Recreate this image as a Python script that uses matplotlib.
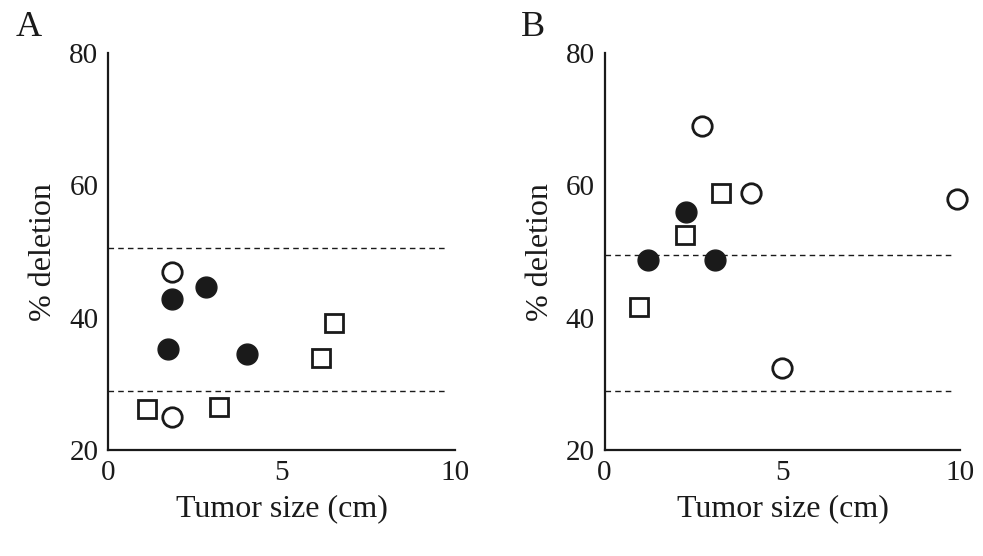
import matplotlib.pyplot as plt

plt.rcParams['font.family'] = ['Liberation Serif', 'DejaVu Serif']

# panel A
a_filled_x = [1.84, 2.82, 1.73, 4.0]
a_filled_y = [42.9, 44.6, 35.3, 34.5]
a_open_x = [1.84, 1.84]
a_open_y = [46.9, 25.0]
a_square_x = [6.5, 6.13, 1.13, 3.2]
a_square_y = [39.2, 34.0, 26.3, 26.6]
a_dashed = [50.5, 29.0]

# panel B
b_filled_x = [2.28, 1.21, 3.1]
b_filled_y = [56.0, 48.7, 48.7]
b_open_x = [2.73, 4.11, 9.9, 5.0]
b_open_y = [69.0, 58.8, 58.0, 32.4]
b_square_x = [3.27, 2.25, 0.96]
b_square_y = [58.8, 52.5, 41.7]
b_dashed = [49.5, 29.0]

x_ticks = [0, 5, 10]
y_ticks = [20, 40, 60, 80]
ink = '#1a1a1a'

fig = plt.figure(figsize=(9.83, 5.56), dpi=100)
ax_a = fig.add_axes([0.110, 0.190, 0.353, 0.715])
ax_b = fig.add_axes([0.615, 0.190, 0.362, 0.715])


def draw_panel(ax, fx, fy, ox, oy, sx, sy, dashed, letter, lx):
    for y in dashed:
        ax.plot([0, 9.8], [y, y], ls=(0, (4, 3)), lw=1.0, color=ink, zorder=1)
    ax.plot(fx, fy, 'o', ms=15, color=ink, mec=ink, ls='none', zorder=3)
    ax.plot(ox, oy, 'o', ms=14, mfc='white', mec=ink, mew=2.0, ls='none',
            zorder=3, clip_on=False)
    ax.plot(sx, sy, 's', ms=13, mfc='white', mec=ink, mew=2.0, ls='none', zorder=3)
    ax.set_xlim(0, 10)
    ax.set_ylim(20, 80)
    ax.set_xticks(x_ticks)
    ax.set_yticks(y_ticks)
    ax.tick_params(length=0, labelsize=21, colors=ink, pad=7)
    ax.spines['top'].set_visible(False)
    ax.spines['right'].set_visible(False)
    for s in ['left', 'bottom']:
        ax.spines[s].set_linewidth(1.6)
        ax.spines[s].set_color(ink)
    ax.set_xlabel('Tumor size (cm)', fontsize=23, color=ink, labelpad=6)
    ax.set_ylabel('% deletion', fontsize=23, color=ink, labelpad=8)
    ax.patch.set_alpha(0)
    fig.text(lx, 0.95, letter, fontsize=26, color=ink, ha='center', va='center')


draw_panel(ax_a, a_filled_x, a_filled_y, a_open_x, a_open_y,
           a_square_x, a_square_y, a_dashed, 'A', 0.029)
draw_panel(ax_b, b_filled_x, b_filled_y, b_open_x, b_open_y,
           b_square_x, b_square_y, b_dashed, 'B', 0.542)

plt.savefig('out.png', dpi=100)
